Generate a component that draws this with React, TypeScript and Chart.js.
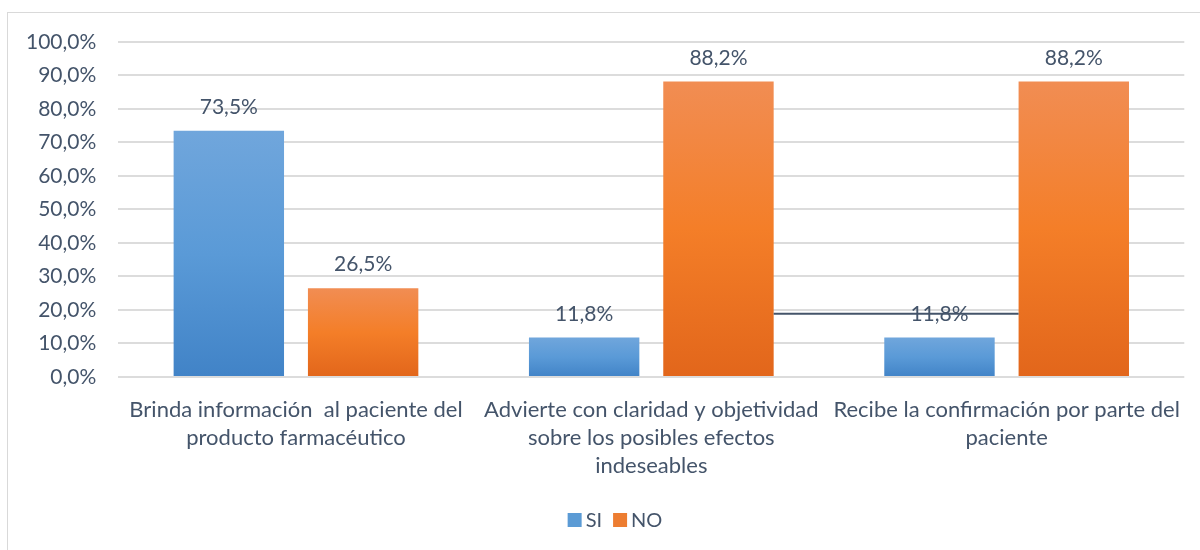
import React, { useEffect, useRef } from "react";
import { Chart, registerables } from "chart.js";

Chart.register(...registerables);

const categories: string[][] = [
  ["Brinda información  al paciente del", "producto farmacéutico"],
  ["Advierte con claridad y objetividad", "sobre los posibles efectos", "indeseables"],
  ["Recibe la confirmación por parte del", "paciente"],
];
const siValues = [73.5, 11.8, 11.8];
const noValues = [26.5, 88.2, 88.2];
const seriesNames = ["SI", "NO"];
const seriesColors = ["#5b9bd5", "#ed7d31"];
const yTicksMax = 100;
const yTickStep = 10;
const connectorValue = 18.9;

const TEXT = "#44546a";
const FONT = "Lato, 'Open Sans', sans-serif";

const fmt = (v: number) => v.toFixed(1).replace(".", ",") + "%";

function gradientFill(top: string, bottom: string, fallback: string) {
  return (ctx: any) => {
    const chart = ctx.chart;
    if (!chart.chartArea || ctx.type !== "data") return fallback;
    const y = chart.scales.y;
    const v = ctx.parsed ? ctx.parsed.y : ctx.raw;
    const y0 = y.getPixelForValue(0);
    const y1 = y.getPixelForValue(v);
    if (!isFinite(y0) || !isFinite(y1) || y0 === y1) return fallback;
    const g = chart.ctx.createLinearGradient(0, y1, 0, y0);
    g.addColorStop(0, top);
    g.addColorStop(0.5, fallback);
    g.addColorStop(1, bottom);
    return g;
  };
}

const dataLabels = {
  id: "dataLabels",
  afterDatasetsDraw(chart: any) {
    const c = chart.ctx;
    c.save();
    c.font = `21px ${FONT}`;
    c.fillStyle = TEXT;
    c.textAlign = "center";
    c.textBaseline = "bottom";
    chart.data.datasets.forEach((ds: any, i: number) => {
      const meta = chart.getDatasetMeta(i);
      meta.data.forEach((bar: any, j: number) => {
        c.fillText(fmt(ds.data[j]), bar.x, bar.y - 13);
      });
    });
    c.restore();
  },
};

const connector = {
  id: "connector",
  afterDatasetsDraw(chart: any) {
    const meta = chart.getDatasetMeta(1);
    const a = meta.data[1];
    const b = meta.data[2];
    if (!a || !b) return;
    const y = chart.scales.y.getPixelForValue(connectorValue);
    const c = chart.ctx;
    c.save();
    c.strokeStyle = TEXT;
    c.lineWidth = 2;
    c.beginPath();
    c.moveTo(a.x + a.width / 2, y);
    c.lineTo(b.x - b.width / 2, y);
    c.stroke();
    c.restore();
  },
};

const customLegend = {
  id: "customLegend",
  afterDraw(chart: any) {
    const c = chart.ctx;
    c.save();
    c.font = `20px ${FONT}`;
    c.textBaseline = "middle";
    c.textAlign = "left";
    const box = 14;
    const gapText = 4;
    const gapItem = 11;
    const widths = seriesNames.map((n) => box + gapText + c.measureText(n).width);
    const total = widths.reduce((a, b) => a + b, 0) + gapItem * (seriesNames.length - 1);
    let x = chart.width / 2 + 15 - total / 2;
    const yc = 520;
    seriesNames.forEach((n, i) => {
      c.fillStyle = seriesColors[i];
      c.fillRect(x, yc - box / 2, box, box);
      c.fillStyle = TEXT;
      c.fillText(n, x + box + gapText, yc + 1);
      x += widths[i] + gapItem;
    });
    c.restore();
  },
};

export default function App() {
  const ref = useRef<HTMLCanvasElement>(null);
  useEffect(() => {
    const chart = new Chart(ref.current!, {
      type: "bar",
      data: {
        labels: categories,
        datasets: [
          {
            label: seriesNames[0],
            data: siValues,
            backgroundColor: gradientFill("#70a6dc", "#4183c7", "#5a9ad7") as any,
            categoryPercentage: 0.756,
            barPercentage: 0.822,
          },
          {
            label: seriesNames[1],
            data: noValues,
            backgroundColor: gradientFill("#f18d53", "#e2661b", "#f47e28") as any,
            categoryPercentage: 0.756,
            barPercentage: 0.822,
          },
        ],
      },
      options: {
        animation: false,
        responsive: false,
        maintainAspectRatio: false,
        layout: { padding: { left: 4, right: 7, top: 42, bottom: 51 } },
        plugins: {
          tooltip: { enabled: false },
          legend: { display: false },
        },
        scales: {
          x: {
            grid: { display: false, drawTicks: false },
            border: { display: false },
            ticks: {
              font: { size: 22, family: FONT, lineHeight: 1.273 },
              color: TEXT,
              padding: 19,
              maxRotation: 0,
              autoSkip: false,
            },
          },
          y: {
            min: 0,
            max: yTicksMax,
            grid: { color: "#dcdcdc", lineWidth: 2, drawTicks: false },
            border: { display: false },
            ticks: {
              stepSize: yTickStep,
              font: { size: 21, family: FONT },
              color: TEXT,
              padding: 22,
              callback: (v: any) => fmt(Number(v)),
            },
          },
        },
      },
      plugins: [dataLabels, connector, customLegend],
    });
    return () => chart.destroy();
  }, []);
  return (
    <div style={{ position: "absolute", left: 0, top: 0, width: 1200, height: 550, background: "#fff", overflow: "hidden" }}>
      <div style={{ position: "absolute", left: 7, top: 12, width: 1300, height: 600, borderLeft: "1px solid #d9d9d9", borderTop: "1px solid #d9d9d9" }} />
      <canvas ref={ref} width={1200} height={550} style={{ position: "absolute", left: 0, top: 0, display: "block" }} />
    </div>
  );
}
